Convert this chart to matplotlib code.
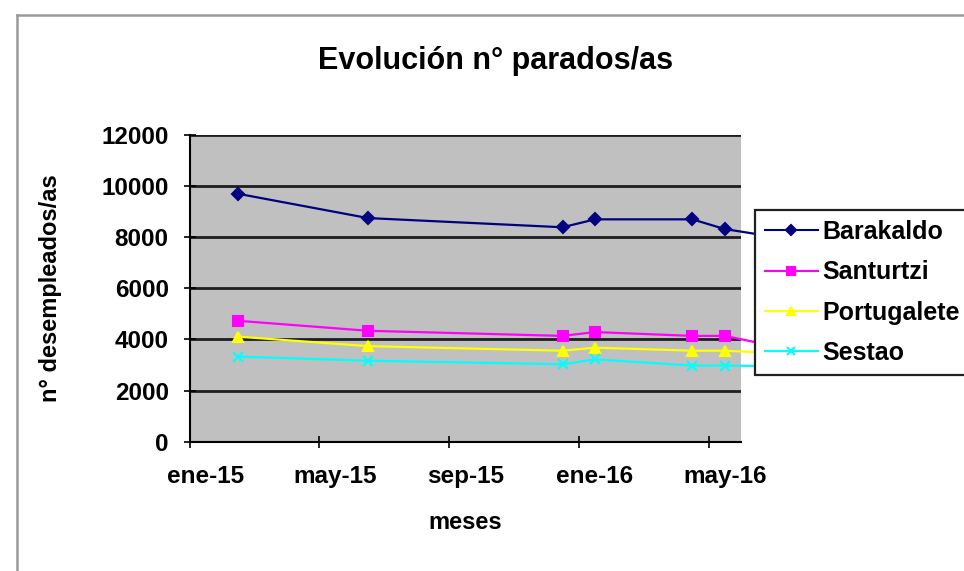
import matplotlib.pyplot as plt
from matplotlib.lines import Line2D

# monthly data (Excel date axis, base unit = months)
months = ['2015-02', '2015-06', '2015-12', '2016-01', '2016-04', '2016-05', '2016-06']
barakaldo = [9700, 8750, 8390, 8700, 8700, 8320, 8120]
santurtzi = [4730, 4340, 4140, 4290, 4140, 4140, 3880]
portugalete = [4110, 3740, 3560, 3680, 3560, 3560, 3500]
sestao = [3330, 3170, 3030, 3220, 2980, 2980, 2960]

tick_labels = ['ene-15', 'may-15', 'sep-15', 'ene-16', 'may-16']
tick_months = [0, 4, 8, 12, 16]

plt.rcParams['font.family'] = ['Liberation Sans', 'DejaVu Sans']
plt.rcParams['font.weight'] = 'bold'


def month_index(s):
    y, m = s.split('-')
    return (int(y) - 2015) * 12 + int(m) - 1


# points sit in the middle of their month slot
x = [month_index(m) + 0.5 for m in months]

fig = plt.figure(figsize=(9.64, 5.71), dpi=100)
ax = fig.add_axes([189.5 / 964, 1 - 441.7 / 571, 551.5 / 964, 306.7 / 571])
ax.set_facecolor('#c0c0c0')

series = [
    ('Barakaldo', barakaldo, '#000080', 'D', 6.5),
    ('Santurtzi', santurtzi, '#ff00ff', 's', 6.5),
    ('Portugalete', portugalete, '#ffff00', '^', 7.5),
    ('Sestao', sestao, '#00ffff', 'x', 7),
]
handles = []
for name, vals, col, mk, ms in series:
    ax.plot(x, vals, color=col, lw=1.6, marker=mk, ms=ms, mew=1.5,
            markevery=slice(0, len(vals) - 1), clip_on=False, zorder=3)
    handles.append(Line2D([], [], color=col, lw=1.5, marker=mk, ms=ms * 0.8, mew=1.5, label=name))

ax.set_xlim(0, 17)
ax.set_ylim(0, 12000)
ax.set_yticks(range(0, 12001, 2000))
ax.yaxis.grid(True, color='#1e1e1e', lw=2)
ax.set_axisbelow(True)

ax.set_xticks(tick_months)
ax.set_xticklabels([])
ax.set_xticks([t + 0.5 for t in tick_months], tick_labels, minor=True)
ax.tick_params(axis='x', which='minor', length=0, pad=17)
ax.tick_params(axis='both', which='major', direction='inout', length=8, width=1.2, color='black')
ax.tick_params(axis='y', pad=11)
for lab in ax.get_xticklabels(minor=True) + ax.get_yticklabels():
    lab.set_fontsize(17.5)
    lab.set_fontweight('bold')

for s in ['top', 'right']:
    ax.spines[s].set_visible(False)
for s in ['left', 'bottom']:
    ax.spines[s].set_color('black')
    ax.spines[s].set_linewidth(1.5)

ax.set_ylabel('n° desempleados/as', fontsize=17, fontweight='bold')
ax.yaxis.set_label_coords(-0.232, 0.5)
ax.set_xlabel('meses', fontsize=17, fontweight='bold')
ax.xaxis.set_label_coords(0.5, -0.225)

fig.text(496 / 964, 1 - 61 / 571, 'Evolución n° parados/as', fontsize=22, fontweight='bold',
         ha='center', va='center')

leg = fig.legend(handles=handles, loc='upper left', bbox_to_anchor=(755 / 964, 1 - 210 / 571),
                 bbox_transform=fig.transFigure, borderaxespad=0, fancybox=False, framealpha=1,
                 edgecolor='#202020', prop={'weight': 'bold', 'size': 18}, handlelength=2.1,
                 handletextpad=0.2, labelspacing=0.65, borderpad=0.4, numpoints=1)
leg.get_frame().set_linewidth(1.6)

# outer chart border (only top/left visible in the crop)
x0, y0 = 17 / 964, 1 - 15 / 571
fig.add_artist(Line2D([x0, x0], [0, y0], color='#999999', lw=1.8, transform=fig.transFigure))
fig.add_artist(Line2D([x0, 1], [y0, y0], color='#999999', lw=1.8, transform=fig.transFigure))

fig.savefig('out.png', dpi=100)
